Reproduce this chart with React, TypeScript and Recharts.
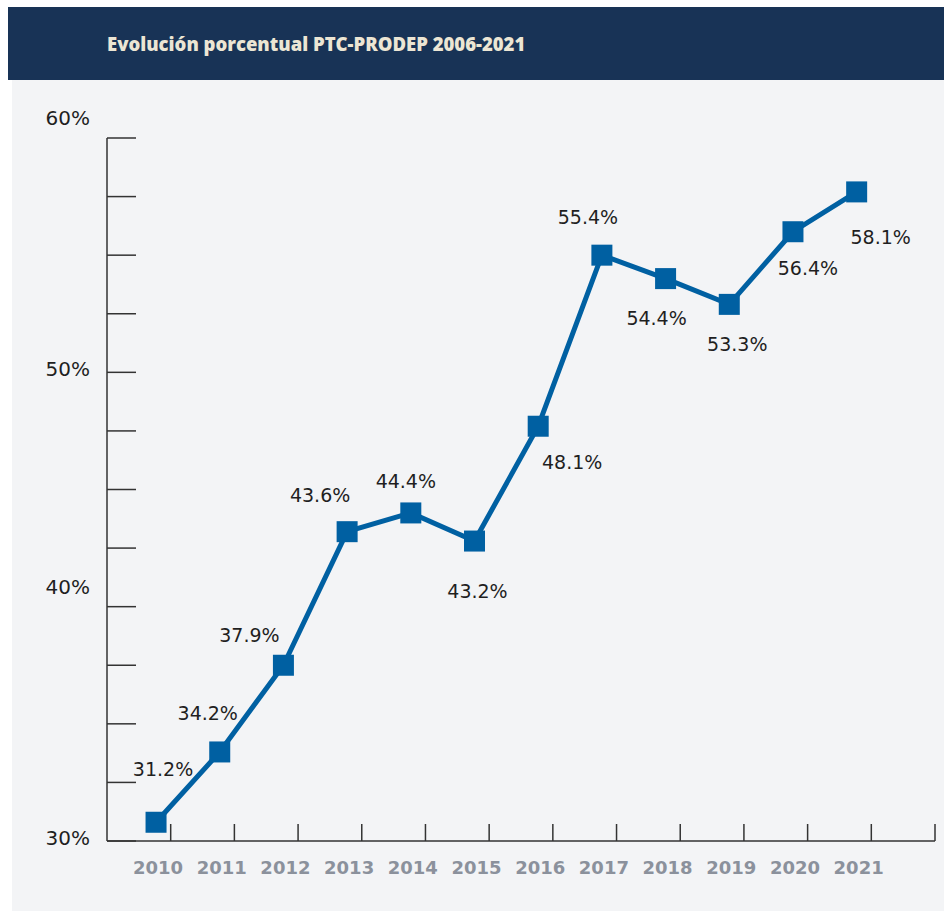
import { LineChart, Line, XAxis, YAxis } from "recharts";

const years = [2010, 2011, 2012, 2013, 2014, 2015, 2016, 2017, 2018, 2019, 2020, 2021];
const values = [31.2, 34.2, 37.9, 43.6, 44.4, 43.2, 48.1, 55.4, 54.4, 53.3, 56.4, 58.1];
const yTicks = [30, 32.5, 35, 37.5, 40, 42.5, 45, 47.5, 50, 52.5, 55, 57.5, 60];
const yLabels: Record<number, string> = { 30: "30%", 40: "40%", 50: "50%", 60: "60%" };
// category separators sit a bit right of each year
const xSeparators = [2010.23, 2011.23, 2012.23, 2013.23, 2014.23, 2015.23, 2016.23, 2017.23, 2018.23, 2019.23, 2020.23, 2021.23, 2022.23];

// the printed axis sits slightly above the plotted values
const AXIS_SHIFT = 0.4;

const data = years.map((year, i) => ({ year, value: values[i] }));

// label placement relative to each marker [dx, dy]
const labelOffsets = [
  [7, -53], [-12, -39], [-34, -30], [-27, -37], [-5, -32], [3, 50],
  [34, 36], [-14, -38], [-9, 39], [8, 40], [15, 36], [24, 45],
];
const yLabelShift: Record<number, number> = { 30: -3, 40: -20, 50: -3, 60: -20 };

const BLUE = "#0060a2";
const AXIS = "#333";

const YTick = (props: any) => {
  const { x, y, payload } = props;
  const base = Math.round((payload.value - AXIS_SHIFT) * 10) / 10;
  const label = yLabels[base];
  return (
    <g>
      <line x1={x} x2={x + 29} y1={y} y2={y} stroke={AXIS} strokeWidth={1.5} />
      {label && (
        <text
          x={x - 17}
          y={y + yLabelShift[base]}
          textAnchor="end"
          dominantBaseline="central"
          fontFamily="DejaVu Sans"
          fontSize={20}
          fill="#1f1f1f"
        >
          {label}
        </text>
      )}
    </g>
  );
};

const XTick = (props: any) => {
  const { x, y, payload } = props;
  if (Number.isInteger(payload.value)) {
    return (
      <text
        x={x + 2}
        y={y + 26}
        textAnchor="middle"
        dominantBaseline="central"
        fontFamily="DejaVu Sans"
        fontWeight="bold"
        fontSize={18}
        fill="#8b919c"
      >
        {payload.value}
      </text>
    );
  }
  return <line x1={x} x2={x} y1={y} y2={y - 17} stroke={AXIS} strokeWidth={1.5} />;
};

const Marker = (props: any) => {
  const { cx, cy, index } = props;
  const [dx, dy] = labelOffsets[index];
  return (
    <g key={`m-${index}`}>
      <rect x={cx - 10.5} y={cy - 10.5} width={21} height={21} fill={BLUE} />
      <text
        x={cx + dx}
        y={cy + dy}
        textAnchor="middle"
        dominantBaseline="central"
        fontFamily="DejaVu Sans"
        fontSize={19}
        fill="#1f1f1f"
      >
        {`${values[index].toFixed(1)}%`}
      </text>
    </g>
  );
};

export default function App() {
  return (
    <div style={{ position: "absolute", left: 8, top: 7, width: 936 }}>
      <div
        style={{
          height: 73,
          background: "#183356",
          color: "#ece6d4",
          fontFamily: "Open Sans",
          fontWeight: 800,
          fontSize: 18.5,
          lineHeight: "73px",
          paddingLeft: 99,
          boxSizing: "border-box",
        }}
      >
        Evolución porcentual PTC-PRODEP 2006-2021
      </div>
      <div style={{ marginLeft: 4, width: 932, height: 831, background: "#f3f4f6" }}>
        <LineChart width={932} height={831} data={data} margin={{ top: 58, right: 9, left: 0, bottom: 40 }}>
          <XAxis
            dataKey="year"
            type="number"
            domain={[2009.23, 2022.23]}
            ticks={[...years, ...xSeparators].sort((a, b) => a - b)}
            interval={0}
            height={30}
            tickSize={0}
            tickMargin={0}
            tickLine={false}
            tick={<XTick />}
            axisLine={{ stroke: AXIS, strokeWidth: 1.5 }}
          />
          <YAxis
            type="number"
            domain={[30 + AXIS_SHIFT, 60 + AXIS_SHIFT]}
            ticks={yTicks.map((t) => t + AXIS_SHIFT)}
            interval={0}
            width={95}
            tickSize={0}
            tickMargin={0}
            tickLine={false}
            tick={<YTick />}
            axisLine={{ stroke: AXIS, strokeWidth: 1.5 }}
          />
          <Line
            dataKey="value"
            stroke={BLUE}
            strokeWidth={5}
            dot={Marker}
            activeDot={false}
            isAnimationActive={false}
          />
        </LineChart>
      </div>
    </div>
  );
}
